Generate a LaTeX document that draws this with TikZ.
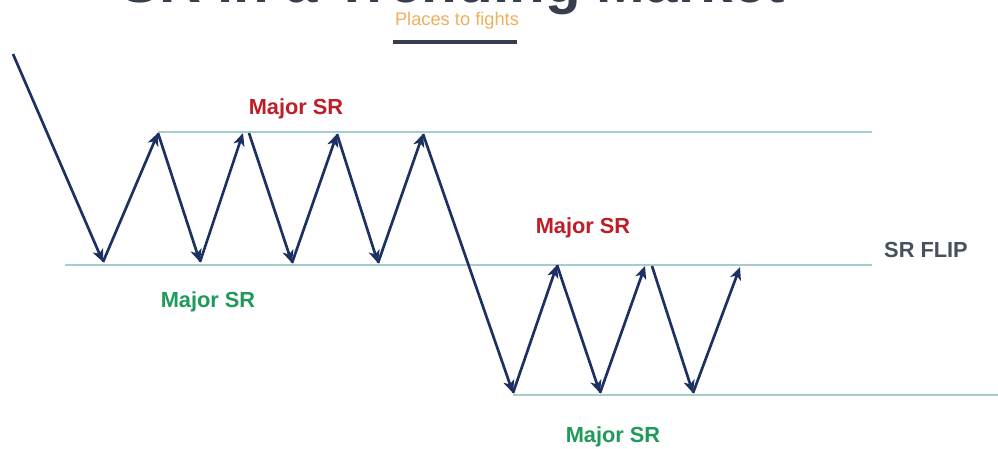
\documentclass[tikz,border=0pt]{standalone}
\usepackage{fontspec}
\setmainfont{Liberation Sans}
\usepackage{xcolor}
\usepackage{tikz}
\usetikzlibrary{arrows.meta,positioning}

\begin{document}
\begin{tikzpicture}[
    x=0.025cm, y=-0.025cm,
    every node/.style={
        font=\bfseries,
        inner sep=0pt
    },
    level/.style={
        draw=levelcolor,
        line width=1.1pt
    },
    swing/.style={
        -{Stealth[length=9pt, width=8pt, inset=2.5pt]},
        draw=swingcolor,
        line width=1.9pt
    },
    srlabel/.style={
        font=\fontsize{15.5pt}{17pt}\selectfont\bfseries
    }
]

%--- Color Definitions ---%
\definecolor{levelcolor}{RGB}{165,205,205}
\definecolor{swingcolor}{RGB}{28,48,98}
\definecolor{redlabel}{RGB}{190,30,40}
\definecolor{greenlabel}{RGB}{30,155,90}
\definecolor{fliplabel}{RGB}{70,80,95}
\definecolor{subcolor}{RGB}{240,175,95}
\definecolor{titlecolor}{RGB}{55,62,78}

\clip (0,0) rectangle (998,448);
\fill[white] (0,0) rectangle (998,448);

%-----------------------------------------------
% TITLE (cut off at the top)
%-----------------------------------------------
\node[anchor=base west, text=titlecolor,
      font=\fontsize{41.5pt}{44pt}\selectfont\bfseries]
    (title) at (120,2) {SR in a Trending Market};

\node[text=subcolor, font=\fontsize{13pt}{15pt}\selectfont]
    (sub) at (457,21) {Places to fights};

\coordinate (barl) at (393,42);
\coordinate (barr) at (517,42);
\draw[titlecolor, line width=3pt] (barl) -- (barr);

%-----------------------------------------------
% SR LEVELS
%-----------------------------------------------
\coordinate (topl) at (158,132);
\coordinate (topr) at (872,132);
\coordinate (midl) at (65,265);
\coordinate (midr) at (872,265);
\coordinate (lowl) at (513,395);
\coordinate (lowr) at (998,395);

\draw[level] (topl) -- (topr);
\draw[level] (midl) -- (midr);
\draw[level] (lowl) -- (lowr);

%-----------------------------------------------
% PRICE SWINGS
%-----------------------------------------------
\coordinate (p0)  at (13,54);
\coordinate (b1)  at (103,262);
\coordinate (t1)  at (158,133);
\coordinate (b2)  at (200,262);
\coordinate (t2)  at (243,133);
\coordinate (t2s) at (249,133);
\coordinate (b3)  at (292,263);
\coordinate (t3)  at (337,134);
\coordinate (b4)  at (378,263);
\coordinate (t4)  at (423,134);
\coordinate (b5)  at (513,393);
\coordinate (t5)  at (557,265);
\coordinate (b6)  at (600,393);
\coordinate (t6)  at (645,266);
\coordinate (t6s) at (652,266);
\coordinate (b7)  at (693,393);
\coordinate (t7)  at (740,267);

\draw[swing] (p0)  -- (b1);
\draw[swing] (b1)  -- (t1);
\draw[swing] (t1)  -- (b2);
\draw[swing] (b2)  -- (t2);
\draw[swing] (t2s) -- (b3);
\draw[swing] (b3)  -- (t3);
\draw[swing] (t3)  -- (b4);
\draw[swing] (b4)  -- (t4);
\draw[swing] (t4)  -- (b5);
\draw[swing] (b5)  -- (t5);
\draw[swing] (t5)  -- (b6);
\draw[swing] (b6)  -- (t6);
\draw[swing] (t6s) -- (b7);
\draw[swing] (b7)  -- (t7);

%-----------------------------------------------
% LABELS
%-----------------------------------------------
\node[srlabel, text=redlabel]   (res1) at (296,109) {Major SR};
\node[srlabel, text=greenlabel] (sup1) at (208,302) {Major SR};
\node[srlabel, text=redlabel]   (res2) at (583,228) {Major SR};
\node[srlabel, text=greenlabel] (sup2) at (613,437) {Major SR};
\node[srlabel, text=fliplabel]  (flip) at (926,250) {SR FLIP};

\end{tikzpicture}
\end{document}
